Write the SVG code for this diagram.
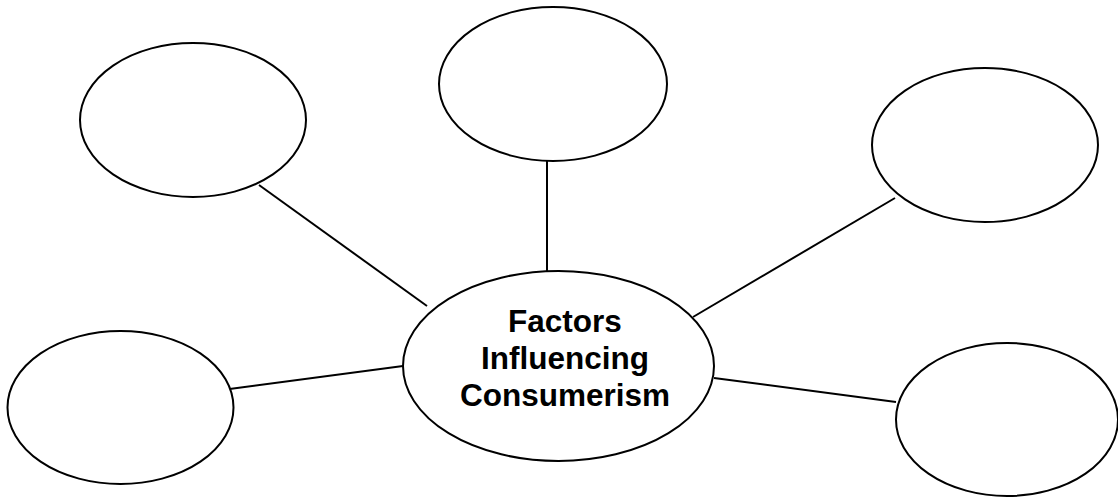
<svg xmlns="http://www.w3.org/2000/svg" width="1118" height="497" viewBox="0 0 1118 497">
<style>
.n{fill:#fff;stroke:#000;stroke-width:2}
.c line{stroke:#000;stroke-width:2}
.t{font-family:"Liberation Sans",Arial,sans-serif;font-weight:bold;font-size:31.5px;fill:#000;text-anchor:middle}
</style>
<rect width="1118" height="497" fill="#fff"/>
<g id="connectors" class="c">
<line x1="259" y1="185" x2="427" y2="306"/>
<line x1="547" y1="161" x2="547" y2="271"/>
<line x1="895" y1="198" x2="693" y2="317"/>
<line x1="222" y1="390" x2="403" y2="366"/>
<line x1="714" y1="378" x2="896" y2="402"/>
</g>
<g id="node-top-left"><ellipse class="n" cx="193" cy="120" rx="113" ry="77"/></g>
<g id="node-top-center"><ellipse class="n" cx="553" cy="84" rx="114" ry="77"/></g>
<g id="node-top-right"><ellipse class="n" cx="985" cy="145" rx="113" ry="77"/></g>
<g id="node-left"><ellipse class="n" cx="120.5" cy="407.5" rx="113" ry="76.5"/></g>
<g id="node-right"><ellipse class="n" cx="1007" cy="419.5" rx="111" ry="76.5"/></g>
<g id="node-center">
<ellipse class="n" cx="558.5" cy="366" rx="155.5" ry="95"/>
<text class="t" x="565" y="332">Factors</text>
<text class="t" x="565" y="369">Influencing</text>
<text class="t" x="565" y="406">Consumerism</text>
</g>
</svg>
